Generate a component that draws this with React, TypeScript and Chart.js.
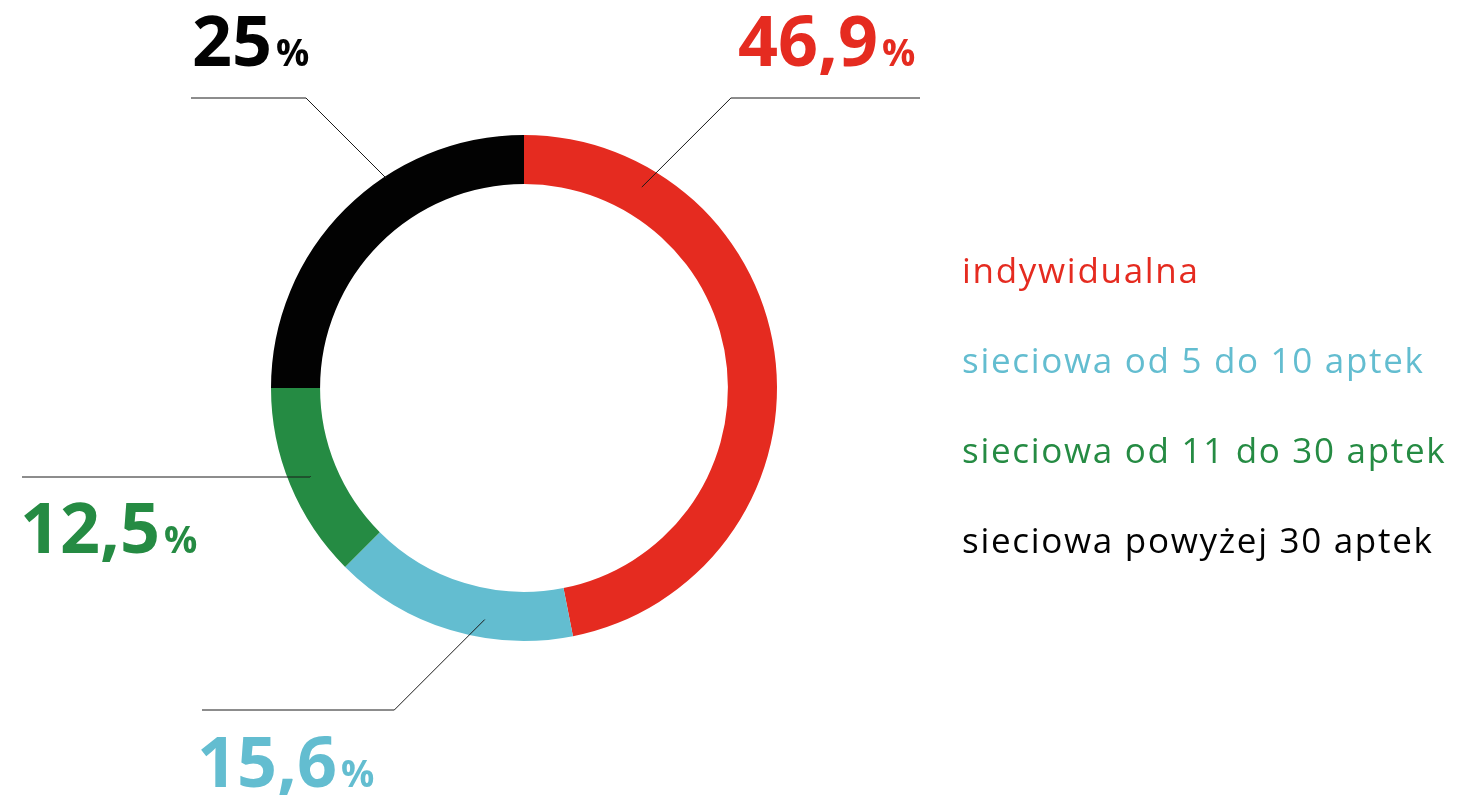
import React, { useEffect, useRef } from "react";
import { Chart, registerables } from "chart.js";

Chart.register(...registerables);

const categories = [
  "indywidualna",
  "sieciowa od 5 do 10 aptek",
  "sieciowa od 11 do 30 aptek",
  "sieciowa powyżej 30 aptek",
];
const shares = [46.9, 15.6, 12.5, 25];
const colors = ["#E52B20", "#63BDD0", "#258B43", "#020202"];

// leader-line / label placement (style only)
const leaderStyle = [
  { frac: 0.18, rad: 0.59, lineY: 98, endX: 920, textX: 738, textY: 66 },
  { frac: 0.37, rad: 0.63, lineY: 710, endX: 202, textX: 197, textY: 787 },
  { frac: 0.5, rad: 0.55, lineY: 477, endX: 22, textX: 20, textY: 553 },
  { frac: 0.63, rad: 0.96, lineY: 98, endX: 191, textX: 192, textY: 66 },
];

const FONT = "'Open Sans', 'DejaVu Sans', sans-serif";

const labelsPlugin = {
  id: "leaderLabels",
  afterDraw(chart: any) {
    const ctx = chart.ctx as CanvasRenderingContext2D;
    const meta = chart.getDatasetMeta(0);
    meta.data.forEach((arc: any, i: number) => {
      const p = arc.getProps(["x", "y", "startAngle", "endAngle", "innerRadius", "outerRadius"], true);
      const st = leaderStyle[i];
      const a = p.startAngle + st.frac * (p.endAngle - p.startAngle);
      const r = p.innerRadius + st.rad * (p.outerRadius - p.innerRadius);
      const ax = p.x + r * Math.cos(a);
      const ay = p.y + r * Math.sin(a);
      const dy = Math.abs(st.lineY - ay);
      const dir = st.endX > ax ? 1 : -1;
      const ex = ax + dir * dy;
      ctx.save();
      ctx.strokeStyle = "#1a1a1a";
      ctx.lineWidth = 1;
      ctx.beginPath();
      ctx.moveTo(ax, ay);
      ctx.lineTo(ex, st.lineY);
      ctx.lineTo(st.endX, st.lineY);
      ctx.stroke();

      const num = String(shares[i]).replace(".", ",");
      ctx.fillStyle = colors[i];
      ctx.textBaseline = "alphabetic";
      ctx.textAlign = "left";
      ctx.font = `700 70px ${FONT}`;
      ctx.fillText(num, st.textX, st.textY);
      const w = ctx.measureText(num).width;
      ctx.font = `700 37px ${FONT}`;
      ctx.fillText("%", st.textX + w + 4, st.textY);
      ctx.restore();
    });

    // legend
    ctx.save();
    ctx.font = `400 35px ${FONT}`;
    (ctx as any).letterSpacing = "1.7px";
    ctx.textAlign = "left";
    ctx.textBaseline = "alphabetic";
    categories.forEach((c, i) => {
      ctx.fillStyle = colors[i];
      ctx.fillText(c, 962, 283 + i * 90);
    });
    ctx.restore();
  },
};

export default function App() {
  const ref = useRef<HTMLCanvasElement>(null);
  useEffect(() => {
    document.body.style.margin = "0";
    const chart = new Chart(ref.current!, {
      type: "doughnut",
      data: {
        labels: categories,
        datasets: [
          {
            data: shares,
            backgroundColor: colors,
            borderWidth: 0,
            hoverOffset: 0,
          },
        ],
      },
      options: {
        responsive: false,
        animation: false,
        cutout: "80.6%",
        layout: { padding: { left: 271, right: 684, top: 135, bottom: 154 } },
        plugins: { legend: { display: false }, tooltip: { enabled: false } },
      },
      plugins: [labelsPlugin],
    });
    return () => chart.destroy();
  }, []);
  return (
    <div style={{ position: "absolute", left: 0, top: 0, width: 1461, height: 795, background: "#fff" }}>
      <canvas ref={ref} width={1461} height={795} style={{ width: 1461, height: 795 }} />
    </div>
  );
}
